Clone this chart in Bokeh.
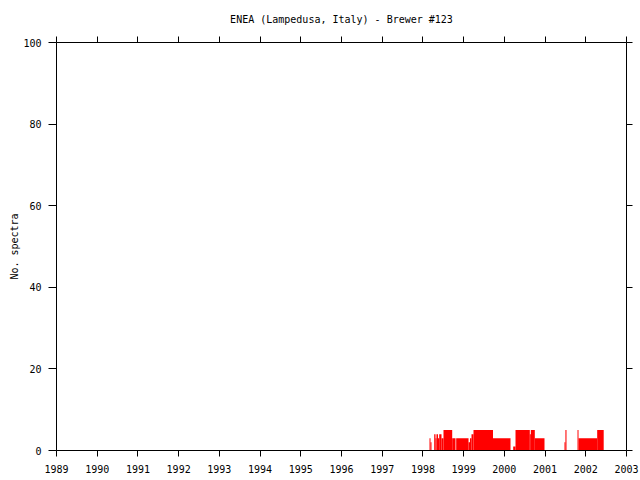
from bokeh.plotting import figure
from bokeh.models import ColumnDataSource, FixedTicker, LinearAxis
from bokeh.embed import file_html
from bokeh.resources import INLINE

title_text = "ENEA (Lampedusa, Italy) - Brewer #123"
y_label = "No. spectra"
year_ticks = list(range(1989, 2004))
count_ticks = [0, 20, 40, 60, 80, 100]

seg_start = [1998.162, 1998.186, 1998.277, 1998.309, 1998.333, 1998.370, 1998.400,
             1998.456, 1998.505, 1998.719, 1998.817, 1999.120, 1999.156, 1999.193,
             1999.242, 1999.721, 2000.217, 2000.274, 2000.625, 2000.650, 2000.748,
             2001.477, 2001.500, 2001.797, 2001.821, 2002.280]
seg_end = [1998.186, 1998.210, 1998.309, 1998.333, 1998.370, 1998.400, 1998.456,
           1998.505, 1998.719, 1998.800, 1999.120, 1999.156, 1999.193, 1999.242,
           1999.721, 2000.151, 2000.274, 2000.625, 2000.650, 2000.748, 2000.986,
           2001.500, 2001.526, 2001.821, 2002.280, 2002.440]
seg_count = [3, 2, 4, 3, 4, 3, 4, 3, 5, 3, 3, 2, 3, 4, 5, 3, 1, 5, 4, 5, 3, 2, 5, 5, 3, 5]

FONT = "DejaVu Sans Mono"

src = ColumnDataSource(dict(left=seg_start, right=seg_end, top=seg_count,
                            bottom=[0] * len(seg_count)))

p = figure(width=640, height=480, x_range=(1989, 2003), y_range=(0, 100),
           output_backend="svg", toolbar_location=None, title=title_text,
           min_border_left=56, min_border_right=14, min_border_top=42,
           min_border_bottom=30)
p.title.align = "center"
p.title.text_font = FONT
p.title.text_font_size = "10px"
p.title.text_font_style = "normal"
p.title.text_color = "black"
p.title.standoff = 23

p.quad(left="left", right="right", top="top", bottom="bottom", source=src,
       fill_color="#ff0000", line_color=None)

p.xgrid.visible = False
p.ygrid.visible = False
p.outline_line_color = None
p.background_fill_color = "white"
p.border_fill_color = "white"

def style(ax, labels=True):
    ax.axis_line_color = "black"
    ax.major_tick_line_color = "black"
    ax.minor_tick_line_color = None
    ax.major_tick_in = 0
    ax.major_tick_out = 6
    ax.major_label_text_font = FONT
    ax.major_label_text_font_size = "10px"
    ax.major_label_text_color = "black"
    ax.axis_label_text_font = FONT
    ax.axis_label_text_font_size = "10px"
    ax.axis_label_text_font_style = "normal"
    ax.axis_label_text_color = "black"
    if not labels:
        ax.major_label_overrides = {t: "" for t in ax.ticker.ticks}
        ax.major_label_standoff = 0

xb = p.xaxis[0]
xb.ticker = FixedTicker(ticks=year_ticks)
style(xb)
xb.major_label_standoff = 8

yl = p.yaxis[0]
yl.ticker = FixedTicker(ticks=count_ticks)
style(yl)
yl.major_tick_out = 8
yl.major_label_standoff = 7
yl.axis_label = y_label
yl.axis_label_standoff = 0

xt = LinearAxis(ticker=FixedTicker(ticks=year_ticks))
style(xt, labels=False)
p.add_layout(xt, "above")

yr = LinearAxis(ticker=FixedTicker(ticks=count_ticks))
style(yr, labels=False)
p.add_layout(yr, "right")

open("out.html", "w").write(file_html(p, INLINE))
